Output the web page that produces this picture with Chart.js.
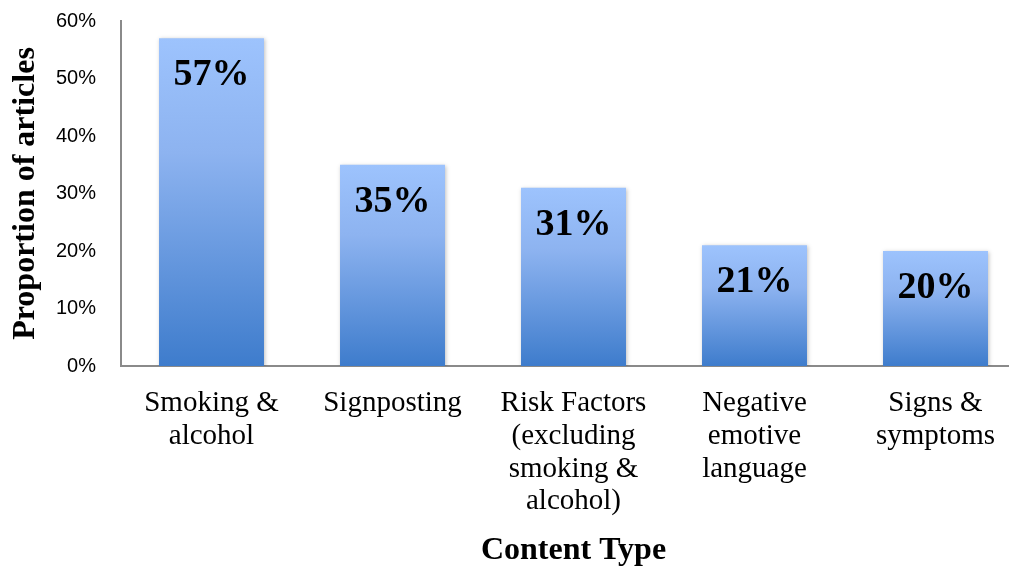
<!DOCTYPE html>
<html>
<head>
<meta charset="utf-8">
<script src="https://cdn.jsdelivr.net/npm/chart.js@4"></script>
<style>
    html, body { margin: 0; padding: 0; background: #fff; overflow: hidden; }
    #wrap { position: relative; width: 1040px; height: 567px; }
</style>
</head>
<body>
<div id="wrap"><canvas id="barChart"></canvas></div>
<script>
const categories = [
    ['Smoking &', 'alcohol'],
    ['Signposting'],
    ['Risk Factors', '(excluding', 'smoking &', 'alcohol)'],
    ['Negative', 'emotive', 'language'],
    ['Signs &', 'symptoms']
];
const proportions = [57, 35, 31, 21, 20];
const yTicks = [0, 10, 20, 30, 40, 50, 60];

// Bar labels ("57%") drawn just under the top of each bar
const valueLabels = {
    id: 'valueLabels',
    afterDatasetsDraw(chart) {
        const ctx = chart.ctx;
        const meta = chart.getDatasetMeta(0);
        ctx.save();
        ctx.font = 'bold 38px "Liberation Serif", "Times New Roman", serif';
        ctx.fillStyle = '#000';
        ctx.textAlign = 'center';
        ctx.textBaseline = 'middle';
        meta.data.forEach((bar, i) => {
            ctx.fillText(proportions[i] + '%', bar.x, bar.y + 37);
        });
        ctx.restore();
    }
};

// soft shadow behind the bars
const barShadow = {
    id: 'barShadow',
    beforeDatasetsDraw(chart) {
        const ctx = chart.ctx;
        ctx.save();
        ctx.shadowColor = 'rgba(0,0,0,0.25)';
        ctx.shadowBlur = 4;
        ctx.shadowOffsetX = 1;
        ctx.shadowOffsetY = 1;
    },
    afterDatasetsDraw(chart) {
        chart.ctx.restore();
    }
};

function barGradient(context) {
    const chart = context.chart;
    const y = chart.scales.y;
    if (!y || context.dataIndex === undefined) return '#6d9fe6';
    const top = y.getPixelForValue(proportions[context.dataIndex]);
    const base = y.getPixelForValue(0);
    if (!isFinite(top) || !isFinite(base)) return '#6d9fe6';
    const g = chart.ctx.createLinearGradient(0, top, 0, base);
    g.addColorStop(0, '#9dc3fd');
    g.addColorStop(0.35, '#8db3f0');
    g.addColorStop(1, '#3e7ccc');
    return g;
}

new Chart(document.getElementById('barChart'), {
    type: 'bar',
    data: {
        labels: categories,
        datasets: [{
            data: proportions,
            backgroundColor: barGradient,
            borderWidth: 0,
            categoryPercentage: 1,
            barPercentage: 0.58
        }]
    },
    options: {
        responsive: true,
        maintainAspectRatio: false,
        animation: false,
        layout: { padding: { left: 10, right: 14, top: 21, bottom: 0 } },
        plugins: {
            legend: { display: false },
            tooltip: { enabled: false }
        },
        scales: {
            x: {
                afterFit: (scale) => {
                    scale.height = 201;
                    scale.paddingLeft = 0;
                    scale.paddingRight = 0;
                },
                grid: { display: false, drawTicks: false },
                border: { display: true, color: '#8a8a8a', width: 2 },
                ticks: {
                    color: '#000',
                    padding: 21,
                    maxRotation: 0,
                    autoSkip: false,
                    font: { family: '"Liberation Serif", "Times New Roman", serif', size: 29, lineHeight: 1.13 }
                },
                title: {
                    display: true,
                    text: 'Content Type',
                    color: '#000',
                    padding: { top: 18, bottom: 0 },
                    font: { family: '"Liberation Serif", "Times New Roman", serif', size: 32, weight: 'bold', lineHeight: 1 }
                }
            },
            y: {
                min: 0,
                max: 60,
                afterBuildTicks: (axis) => {
                    axis.ticks = yTicks.map(v => ({ value: v }));
                },
                afterFit: (scale) => {
                    scale.width = 111;
                    scale.paddingTop = 0;
                    scale.paddingBottom = 0;
                },
                grid: { display: false, drawTicks: false },
                border: { display: true, color: '#8a8a8a', width: 2 },
                ticks: {
                    color: '#000',
                    padding: 25,
                    font: { family: '"Liberation Sans", Arial, sans-serif', size: 20 },
                    callback: (v) => v + '%'
                },
                title: {
                    display: true,
                    text: 'Proportion of articles',
                    color: '#000',
                    padding: { top: 0, bottom: 16 },
                    font: { family: '"Liberation Serif", "Times New Roman", serif', size: 32, weight: 'bold', lineHeight: 1 }
                }
            }
        }
    },
    plugins: [barShadow, valueLabels]
});
</script>
</body>
</html>
